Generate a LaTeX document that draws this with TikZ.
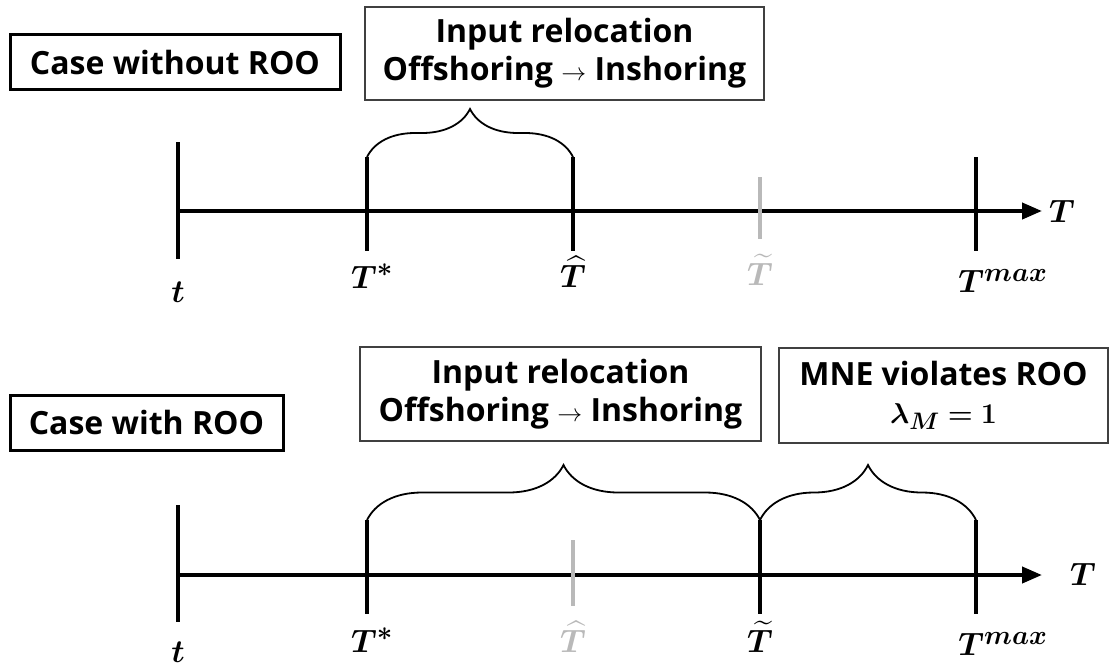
\documentclass[tikz,border=0pt]{standalone}
\usepackage{amsmath,bm,graphicx}
\usepackage{fontspec}
\setmainfont{Open Sans}
\usetikzlibrary{arrows.meta,decorations.pathreplacing}
\newcommand{\mylab}[1]{\scalebox{1.3}{$\bm{#1}$}}
\begin{document}
\begin{tikzpicture}[x=1pt,y=-1pt,
  axis/.style={line width=4pt,-{Triangle[length=20pt,width=16pt]}},
  tick/.style={line width=4pt},
  gtick/.style={line width=4pt,gray!55},
  casebox/.style={draw,line width=3pt,inner sep=0pt,minimum width=330pt,minimum height=55pt,font=\bfseries\fontsize{32}{36}\selectfont},
  infobox/.style={draw=black!75,line width=1.2pt,inner sep=0pt,align=center,font=\bfseries\fontsize{32}{38}\selectfont},
  lab/.style={inner sep=0pt,font=\fontsize{24.88}{30}\selectfont},
  glab/.style={lab,text=gray!55},
  bracestyle/.style={line width=1.8pt,decorate,decoration={brace,amplitude=48pt}}
]
\useasboundingbox (0,0) rectangle (1110,670);

% ---------- top ----------
\node[casebox] (c1) at (175,62) {Case without ROO};
\node[infobox,minimum width=399pt,minimum height=93pt] (b1) at (564.5,53.5) {Input relocation\\Offshoring $\rightarrow$ Inshoring};

\coordinate (a0) at (178,211);
\coordinate (aend) at (1042,211);
\draw[axis] (a0) -- (aend);
\node[lab] (Tax1) at (1062,211) {\mylab{T}};

\coordinate (t1a) at (178,142); \coordinate (t1b) at (178,259);
\coordinate (s1a) at (367,157); \coordinate (s1b) at (367,251);
\coordinate (h1a) at (573,157); \coordinate (h1b) at (573,251);
\coordinate (w1a) at (760,177); \coordinate (w1b) at (760,239);
\coordinate (m1a) at (976,157); \coordinate (m1b) at (976,251);
\draw[tick] (t1a) -- (t1b);
\draw[tick] (s1a) -- (s1b);
\draw[tick] (h1a) -- (h1b);
\draw[gtick] (w1a) -- (w1b);
\draw[tick] (m1a) -- (m1b);

\node[lab] (lt1) at (178,292) {\mylab{t}};
\node[lab] (ls1) at (372,276) {\mylab{T^{*}}};
\node[lab] (lh1) at (573,272) {\mylab{\widehat{T}}};
\node[glab] (lw1) at (760,270) {\mylab{\widetilde{T}}};
\node[lab] (lm1) at (1003,281) {\mylab{T^{max}}};

\draw[bracestyle] (s1a) -- (h1a);

% ---------- bottom ----------
\node[casebox,minimum width=273pt] (c2) at (146.5,422.5) {Case with ROO};
\node[infobox,minimum width=401pt,minimum height=94pt] (b2) at (560.5,394) {Input relocation\\Offshoring $\rightarrow$ Inshoring};
\node[infobox,minimum width=329pt,minimum height=95pt] (b3) at (943.5,395.5) {MNE violates ROO\\\scalebox{1.15}{$\bm{\lambda_M = 1}$}};

\coordinate (a2) at (178,575);
\coordinate (aend2) at (1042,575);
\draw[axis] (a2) -- (aend2);
\node[lab] (Tax2) at (1083,574) {\mylab{T}};

\coordinate (t2a) at (178,505); \coordinate (t2b) at (178,622);
\coordinate (s2a) at (367,520); \coordinate (s2b) at (367,614);
\coordinate (h2a) at (573,540); \coordinate (h2b) at (573,606);
\coordinate (w2a) at (760,520); \coordinate (w2b) at (760,614);
\coordinate (m2a) at (976,520); \coordinate (m2b) at (976,614);
\draw[tick] (t2a) -- (t2b);
\draw[tick] (s2a) -- (s2b);
\draw[gtick] (h2a) -- (h2b);
\draw[tick] (w2a) -- (w2b);
\draw[tick] (m2a) -- (m2b);

\node[lab] (lt2) at (178,652) {\mylab{t}};
\node[lab] (ls2) at (372,640) {\mylab{T^{*}}};
\node[glab] (lh2) at (573,637) {\mylab{\widehat{T}}};
\node[lab] (lw2) at (760,637) {\mylab{\widetilde{T}}};
\node[lab] (lm2) at (1003,644) {\mylab{T^{max}}};

\draw[bracestyle,decoration={amplitude=55pt}] (s2a) -- (w2a);
\draw[bracestyle,decoration={amplitude=55pt}] (w2a) -- (m2a);
\end{tikzpicture}
\end{document}
